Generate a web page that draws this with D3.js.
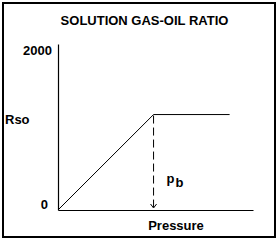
<!DOCTYPE html>
<html>
<head>
<meta charset="utf-8">
<script src="https://cdn.jsdelivr.net/npm/d3@7"></script>
<style>
  html, body { margin: 0; padding: 0; background: #fff; }
  svg { display: block; }
  text { font-family: "Liberation Sans", Arial, sans-serif; font-weight: bold; font-size: 13px; fill: #000; }
</style>
</head>
<body>
<div id="chart"></div>
<script>
// ─── DONNÉES ─────────────────────────────────────────────
const pressure = [0, 2450, 4400];      // pression (unités arbitraires)
const rso      = [0, 1150, 1150];      // rapport gaz-huile en solution
const yTicks   = [0, 2000];
const bubblePoint = 2450;               // p_b

const width = 277, height = 242;

const svg = d3.select("#chart").append("svg")
    .attr("width", width).attr("height", height);

// Cadre
svg.append("rect")
    .attr("x", 3).attr("y", 3)
    .attr("width", 272).attr("height", 234)
    .attr("fill", "none").attr("stroke", "#000").attr("stroke-width", 2);

const x = d3.scaleLinear().domain([0, 5000]).range([58, 253]);
const y = d3.scaleLinear().domain([0, 2000]).range([210, 44]);

// Axes (lignes seulement)
svg.append("g")
    .attr("transform", `translate(${x(0)},0)`)
    .call(d3.axisLeft(y).tickValues([]).tickSizeOuter(0))
    .call(g => g.select(".domain").attr("stroke", "#000").attr("stroke-width", 1.2));

svg.append("g")
    .attr("transform", `translate(0,${y(0)})`)
    .call(d3.axisBottom(x).tickValues([]).tickSizeOuter(0))
    .call(g => g.select(".domain").attr("stroke", "#000").attr("stroke-width", 1.2));

// Étiquettes Y (le 0 est un peu plus à gauche et remonté)
svg.selectAll(".ytick")
    .data(yTicks)
    .enter().append("text")
    .attr("class", "ytick")
    .attr("x", d => x(0) - (d === 0 ? 10 : 6))
    .attr("y", d => y(d) + (d === 0 ? -1 : 11))
    .attr("text-anchor", "end")
    .text(d => d);

// Courbe
const line = d3.line().x((d, i) => x(pressure[i])).y(d => y(d));
svg.append("path")
    .datum(rso)
    .attr("d", line)
    .attr("fill", "none")
    .attr("stroke", "#000")
    .attr("stroke-width", 1);

// Ligne pointillée au point de bulle + flèche
svg.append("line")
    .attr("x1", x(bubblePoint)).attr("x2", x(bubblePoint))
    .attr("y1", y(rso[1]) + 1).attr("y2", y(0) - 3)
    .attr("stroke", "#000")
    .attr("stroke-dasharray", "8,4");

svg.append("path")
    .attr("d", `M${x(bubblePoint) - 3},${y(0) - 6} L${x(bubblePoint)},${y(0) - 2} L${x(bubblePoint) + 3},${y(0) - 6}`)
    .attr("fill", "none").attr("stroke", "#000");

// p_b
const pb = svg.append("text")
    .attr("x", x(bubblePoint) + 13)
    .attr("y", 183);
pb.append("tspan").text("p");
pb.append("tspan").attr("dy", 4).attr("dx", 1).text("b");

// Titres
svg.append("text")
    .attr("x", 144.5).attr("y", 25)
    .attr("text-anchor", "middle")
    .text("SOLUTION GAS-OIL RATIO");

svg.append("text")
    .attr("x", 5).attr("y", 124)
    .text("Rso");

svg.append("text")
    .attr("x", 176).attr("y", 230)
    .attr("text-anchor", "middle")
    .text("Pressure");
</script>
</body>
</html>
